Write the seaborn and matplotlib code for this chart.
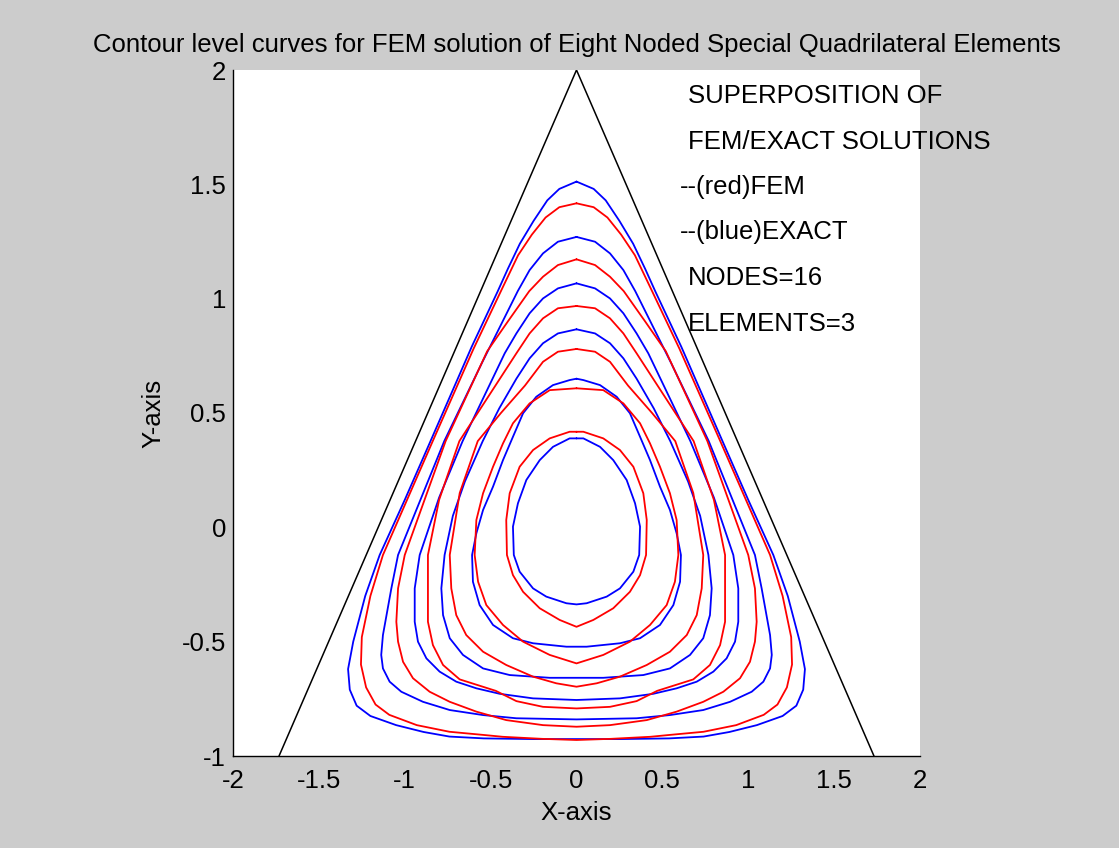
import numpy as np
import matplotlib
matplotlib.use("Agg")
import matplotlib.pyplot as plt
import seaborn as sns

SET_DPI = 100
FIGSIZE = (11.19, 8.48)

# triangle boundary
tri_x = [-1.732, 0.0, 1.732]
tri_y = [-1.0, 2.0, -1.0]

# right half of each level curve (top -> bottom)
b1_x = [0, 0.10, 0.17, 0.25, 0.33, 0.40, 0.46, 0.61, 0.85, 1.00, 1.146, 1.23, 1.30, 1.33, 1.32, 1.28, 1.20, 1.05, 0.89, 0.74, 0.54, 0.25, 0]
b1_y = [1.512, 1.48, 1.43, 1.34, 1.24, 1.13, 1.03, 0.79, 0.377, 0.12, -0.121, -0.30, -0.50, -0.62, -0.71, -0.78, -0.825, -0.865, -0.895, -0.915, -0.923, -0.926, -0.926]
r1_x = [0, 0.10, 0.18, 0.26, 0.34, 0.44, 0.60, 0.837, 1.127, 1.20, 1.25, 1.255, 1.225, 1.17, 1.09, 0.93, 0.74, 0.54, 0.43, 0.2, 0]
r1_y = [1.417, 1.40, 1.355, 1.28, 1.19, 1.033, 0.78, 0.377, -0.121, -0.30, -0.48, -0.60, -0.70, -0.775, -0.82, -0.865, -0.894, -0.908, -0.916, -0.925, -0.93]
b2_x = [0, 0.108, 0.195, 0.273, 0.342, 0.55, 0.77, 1.039, 1.078, 1.127, 1.137, 1.127, 1.088, 1.02, 0.894, 0.738, 0.544, 0.35, 0]
b2_y = [1.27, 1.249, 1.198, 1.125, 1.033, 0.72, 0.377, -0.121, -0.267, -0.471, -0.558, -0.617, -0.675, -0.719, -0.763, -0.799, -0.821, -0.835, -0.84]
r2_x = [0, 0.108, 0.195, 0.275, 0.40, 0.52, 0.762, 1.0, 1.039, 1.049, 1.039, 1.01, 0.952, 0.855, 0.738, 0.583, 0.409, 0.195, 0]
r2_y = [1.172, 1.147, 1.096, 1.033, 0.90, 0.77, 0.377, -0.121, -0.267, -0.413, -0.5, -0.588, -0.66, -0.719, -0.763, -0.806, -0.843, -0.865, -0.872]
b3_x = [0, 0.108, 0.195, 0.273, 0.35, 0.418, 0.663, 0.80, 0.913, 0.942, 0.942, 0.923, 0.874, 0.797, 0.70, 0.583, 0.447, 0.253, 0]
b3_y = [1.067, 1.045, 1.001, 0.936, 0.848, 0.761, 0.377, 0.13, -0.121, -0.267, -0.413, -0.5, -0.573, -0.631, -0.675, -0.704, -0.728, -0.748, -0.755]
r3_x = [0, 0.108, 0.195, 0.273, 0.35, 0.682, 0.80, 0.865, 0.865, 0.865, 0.836, 0.777, 0.68, 0.47, 0.35, 0.195, 0]
r3_y = [0.968, 0.958, 0.914, 0.848, 0.761, 0.377, 0.12, -0.121, -0.267, -0.413, -0.515, -0.602, -0.665, -0.715, -0.76, -0.785, -0.792]
b4_x = [0, 0.108, 0.195, 0.273, 0.35, 0.45, 0.546, 0.65, 0.72, 0.768, 0.787, 0.777, 0.738, 0.661, 0.544, 0.389, 0.156, 0]
b4_y = [0.866, 0.848, 0.805, 0.739, 0.65, 0.52, 0.377, 0.2, 0.05, -0.121, -0.267, -0.384, -0.485, -0.558, -0.617, -0.646, -0.658, -0.658]
r4_x = [0, 0.108, 0.195, 0.30, 0.44, 0.575, 0.68, 0.738, 0.729, 0.70, 0.642, 0.544, 0.409, 0.253, 0.118, 0]
r4_y = [0.78, 0.768, 0.724, 0.62, 0.5, 0.377, 0.15, -0.121, -0.267, -0.384, -0.471, -0.544, -0.602, -0.653, -0.682, -0.697]
b5_x = [0, 0.04, 0.137, 0.234, 0.311, 0.37, 0.428, 0.486, 0.544, 0.583, 0.608, 0.603, 0.564, 0.486, 0.37, 0.253, 0.059, 0]
b5_y = [0.65, 0.644, 0.622, 0.571, 0.499, 0.396, 0.294, 0.178, 0.076, -0.026, -0.121, -0.238, -0.34, -0.427, -0.485, -0.507, -0.522, -0.522]
r5_x = [0, 0.156, 0.273, 0.37, 0.428, 0.486, 0.544, 0.583, 0.593, 0.573, 0.525, 0.428, 0.311, 0.156, 0]
r5_y = [0.608, 0.6, 0.542, 0.455, 0.367, 0.265, 0.149, 0.032, -0.121, -0.238, -0.34, -0.427, -0.5, -0.558, -0.595]
b6_x = [0, 0.04, 0.137, 0.214, 0.292, 0.341, 0.37, 0.365, 0.331, 0.253, 0.176, 0.059, 0]
b6_y = [0.389, 0.389, 0.352, 0.294, 0.207, 0.105, 0.003, -0.121, -0.194, -0.267, -0.303, -0.332, -0.337]
r6_x = [0, 0.04, 0.156, 0.253, 0.331, 0.389, 0.409, 0.405, 0.37, 0.311, 0.214, 0.098, 0]
r6_y = [0.418, 0.418, 0.389, 0.338, 0.265, 0.149, 0.032, -0.121, -0.209, -0.282, -0.354, -0.405, -0.435]

exact_curves = [(b1_x, b1_y), (b2_x, b2_y), (b3_x, b3_y), (b4_x, b4_y), (b5_x, b5_y), (b6_x, b6_y)]
fem_curves = [(r1_x, r1_y), (r2_x, r2_y), (r3_x, r3_y), (r4_x, r4_y), (r5_x, r5_y), (r6_x, r6_y)]

notes = ['SUPERPOSITION OF', 'FEM/EXACT SOLUTIONS', '--(red)FEM', '--(blue)EXACT', 'NODES=16', 'ELEMENTS=3']
notes_x = [0.65, 0.65, 0.60, 0.60, 0.65, 0.65]
notes_y = [1.886, 1.685, 1.488, 1.291, 1.09, 0.889]

title = 'Contour level curves for FEM solution of Eight Noded Special Quadrilateral Elements'
FS = 18.5


def closed(xs, ys):
    # right half plus its mirror image closes the curve
    fx = list(xs) + [-v for v in reversed(xs)]
    fy = list(ys) + list(reversed(ys))
    return np.array(fx), np.array(fy)


sns.set_style('white')
plt.rcParams['font.family'] = ['Liberation Sans', 'DejaVu Sans']
plt.rcParams['text.color'] = 'black'
plt.rcParams['axes.labelcolor'] = 'black'

fig = plt.figure(figsize=FIGSIZE, dpi=SET_DPI, facecolor='#cccccc')
ax = fig.add_axes([233 / 1119, 1 - 756 / 848, 687 / 1119, 686 / 848])
ax.set_facecolor('white')

sns.lineplot(x=tri_x, y=tri_y, sort=False, estimator=None, color='black', lw=1.1, ax=ax)
for xs, ys in exact_curves:
    fx, fy = closed(xs, ys)
    sns.lineplot(x=fx, y=fy, sort=False, estimator=None, color='blue', lw=1.3, ax=ax)
for xs, ys in fem_curves:
    fx, fy = closed(xs, ys)
    sns.lineplot(x=fx, y=fy, sort=False, estimator=None, color='red', lw=1.3, ax=ax)

for txt, tx, ty in zip(notes, notes_x, notes_y):
    ax.text(tx, ty, txt, fontsize=FS, ha='left', va='center', color='black', clip_on=False)

ax.set_xlim(-2, 2)
ax.set_ylim(-1, 2)
ax.set_xticks([-2, -1.5, -1, -0.5, 0, 0.5, 1, 1.5, 2])
ax.set_xticklabels(['-2', '-1.5', '-1', '-0.5', '0', '0.5', '1', '1.5', '2'])
ax.set_yticks([-1, -0.5, 0, 0.5, 1, 1.5, 2])
ax.set_yticklabels(['-1', '-0.5', '0', '0.5', '1', '1.5', '2'])
ax.tick_params(direction='in', length=6, width=0.8, labelsize=FS, colors='black')
ax.tick_params(axis='x', pad=9)
ax.tick_params(axis='y', pad=5)
for side in ['top', 'right']:
    ax.spines[side].set_visible(False)
for side in ['left', 'bottom']:
    ax.spines[side].set_color('black')
    ax.spines[side].set_linewidth(1.0)

ax.set_xlabel('X-axis', fontsize=FS, labelpad=6)
ax.set_ylabel('Y-axis', fontsize=FS, labelpad=12)
ax.set_title(title, fontsize=FS, pad=13)

plt.savefig('out.png', dpi=SET_DPI, facecolor=fig.get_facecolor())
plt.close()
